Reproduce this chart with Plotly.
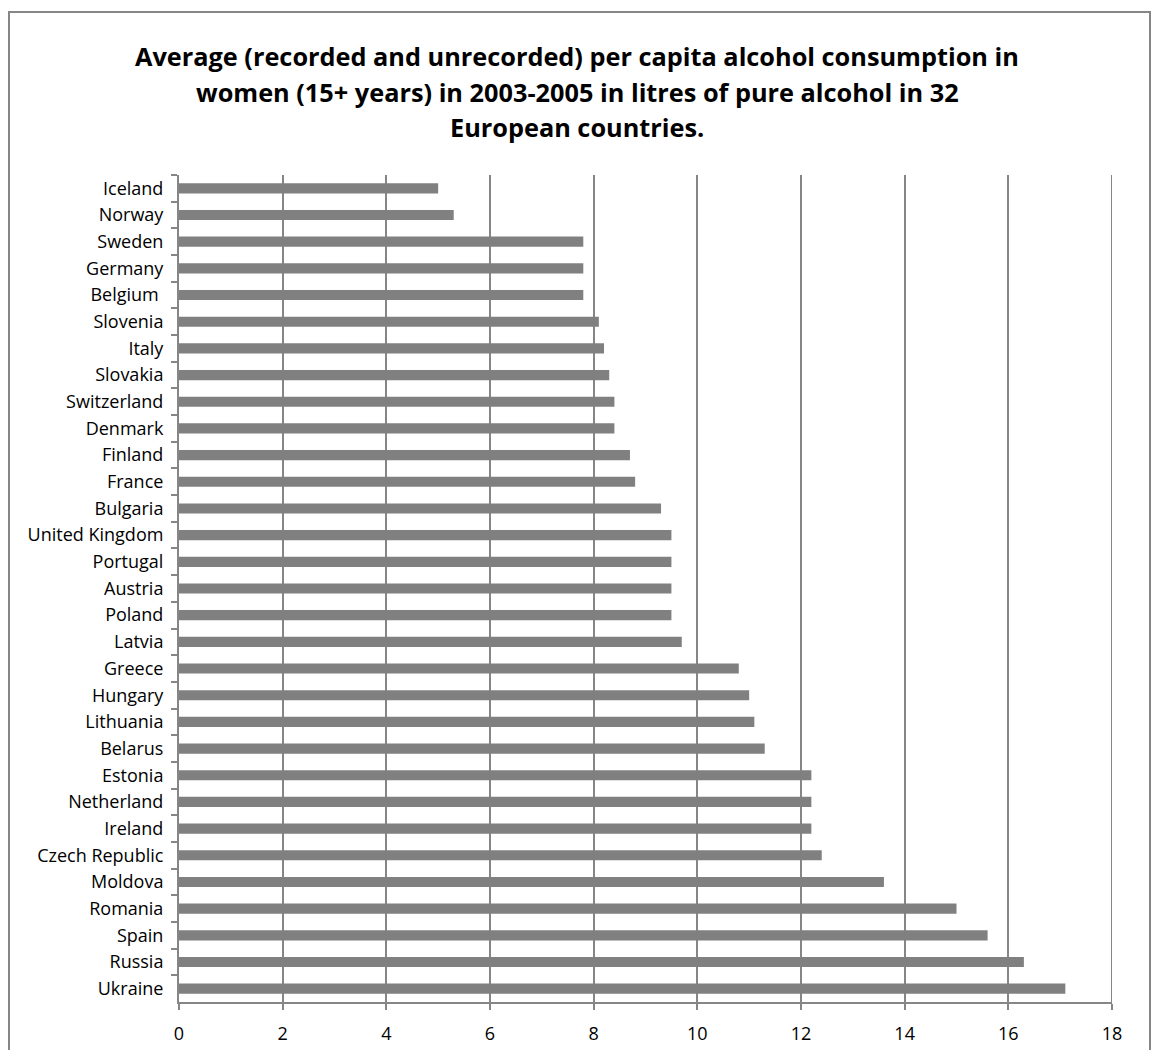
import plotly.graph_objects as go

countries = ["Iceland", "Norway", "Sweden", "Germany", "Belgium ", "Slovenia", "Italy",
             "Slovakia", "Switzerland", "Denmark", "Finland", "France", "Bulgaria",
             "United Kingdom", "Portugal", "Austria", "Poland", "Latvia", "Greece",
             "Hungary", "Lithuania", "Belarus", "Estonia", "Netherland", "Ireland",
             "Czech Republic", "Moldova", "Romania", "Spain", "Russia", "Ukraine"]
values = [5.0, 5.3, 7.8, 7.8, 7.8, 8.1, 8.2, 8.3, 8.4, 8.4, 8.7, 8.8, 9.3,
          9.5, 9.5, 9.5, 9.5, 9.7, 10.8, 11.0, 11.1, 11.3, 12.2, 12.2, 12.2,
          12.4, 13.6, 15.0, 15.6, 16.3, 17.1]
x_ticks = [0, 2, 4, 6, 8, 10, 12, 14, 16, 18]

title_lines = ["Average (recorded and unrecorded) per capita alcohol consumption in",
               "women (15+ years) in 2003-2005 in litres of pure alcohol in 32",
               "European countries."]
title_centers_px = [56, 92, 127]

L, R, T, B = 179, 40, 175, 48
W, H = 1152, 1050
pw, ph = W - L - R, H - T - B

fig = go.Figure(go.Bar(
    x=values, y=countries, orientation="h",
    marker=dict(color="#808080", line=dict(width=0)),
    width=0.38,
))

grey = "#868686"
fig.update_layout(
    width=W, height=H,
    margin=dict(l=L, r=R, t=T, b=B, autoexpand=False),
    paper_bgcolor="white", plot_bgcolor="white",
    showlegend=False,
    font=dict(family="Open Sans", color="black"),
    xaxis=dict(range=[0, 18], tickvals=x_ticks, showgrid=True, gridcolor=grey, gridwidth=2,
               zeroline=False, showline=True, linecolor=grey, linewidth=2,
               ticks="outside", ticklen=6, tickcolor=grey, tickwidth=2,
               ticklabelstandoff=8, automargin=False,
               tickfont=dict(size=18, family="Open Sans", color="black")),
    yaxis=dict(categoryorder="array", categoryarray=countries, autorange="reversed",
               showgrid=False, showline=True, linecolor=grey, linewidth=2,
               ticks="outside", ticklen=6, tickcolor=grey, tickwidth=2,
               tickson="boundaries", ticklabelstandoff=10, automargin=False,
               tickfont=dict(size=18, family="Open Sans", color="black")),
    bargap=0.6,
)

for line, cy in zip(title_lines, title_centers_px):
    fig.add_annotation(text="<b>" + line + "</b>", xref="paper", yref="paper",
                       x=(577 - L) / pw, y=(H - B - cy) / ph,
                       xanchor="center", yanchor="middle", showarrow=False,
                       font=dict(family="Open Sans", size=25.3, color="black"))

# gridline at the right edge (x = 18)
fig.add_shape(type="line", xref="x", yref="paper", x0=18, x1=18, y0=0, y1=1,
              line=dict(color=grey, width=2))

fig.add_shape(type="rect", xref="paper", yref="paper",
              x0=(9 - L) / pw, x1=(1150 - L) / pw,
              y0=(H - B - 1060) / ph, y1=(H - B - 12) / ph,
              line=dict(color=grey, width=2), layer="below")

fig.write_html("out.html")
